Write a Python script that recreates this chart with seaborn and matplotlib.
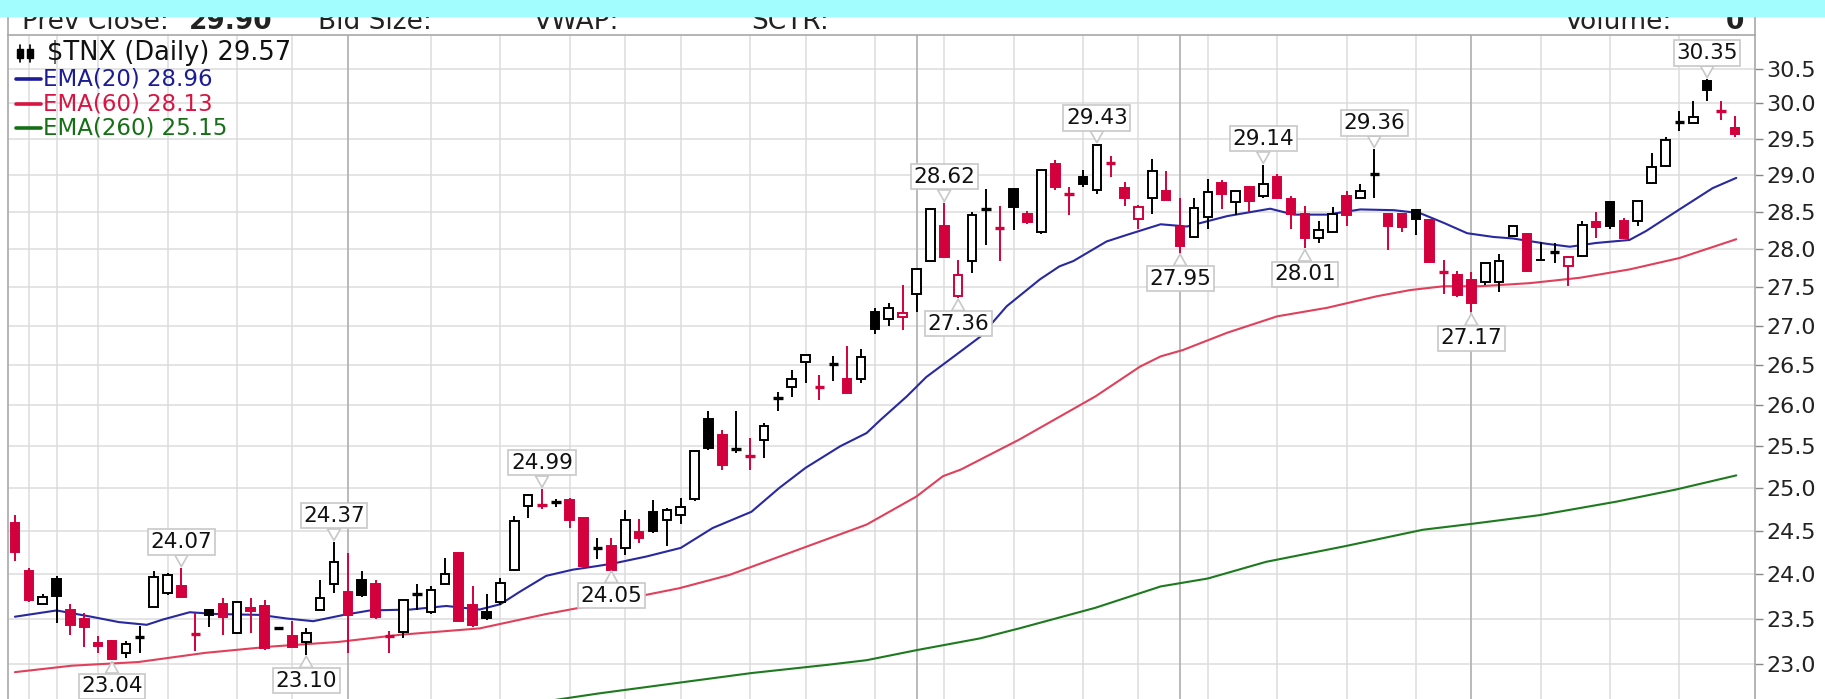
import numpy as np
import pandas as pd
import matplotlib
matplotlib.use('Agg')
import matplotlib.pyplot as plt
import seaborn as sns
from matplotlib.patches import Rectangle
from matplotlib.lines import Line2D
from matplotlib.ticker import FixedLocator, FixedFormatter, NullLocator

#### candle data ($TNX daily) ####
opens = [24.59, 24.03, 23.66, 23.95, 23.60, 23.50, 23.23, 23.25, 23.12, 23.30,
         23.63, 23.79, 23.86, 23.33, 23.60, 23.66, 23.34, 23.62, 23.64, 23.39,
         23.31, 23.24, 23.59, 23.89, 23.80, 23.93, 23.89, 23.31, 23.35, 23.78,
         23.57, 23.89, 24.24, 23.65, 23.57, 23.69, 24.05, 24.79, 24.80, 24.83,
         24.86, 24.65, 24.30, 24.32, 24.30, 24.48, 24.72, 24.62, 24.68, 24.87,
         25.83, 25.64, 25.47, 25.38, 25.58, 26.09, 26.23, 26.54, 26.23, 26.51,
         26.33, 26.33, 27.17, 27.08, 27.11, 27.41, 27.84, 28.31, 27.38, 27.84,
         28.53, 28.28, 28.81, 28.47, 28.22, 29.15, 28.74, 28.97, 28.80, 29.17,
         28.82, 28.40, 28.69, 28.78, 28.30, 28.16, 28.43, 28.89, 28.63, 28.84,
         28.71, 28.97, 28.67, 28.47, 28.14, 28.23, 28.71, 28.69, 29.01, 28.47,
         28.47, 28.52, 28.39, 27.69, 27.66, 27.59, 27.56, 27.57, 28.17, 28.20,
         27.86, 27.96, 27.77, 27.91, 28.36, 28.63, 28.38, 28.38, 28.89, 29.13,
         29.74, 29.72, 30.32, 29.90, 29.65]
highs = [24.68, 24.07, 23.77, 23.98, 23.66, 23.56, 23.31, 23.26, 23.25, 23.42,
         24.04, 24.01, 24.07, 23.56, 23.61, 23.73, 23.70, 23.73, 23.71, 23.41,
         23.47, 23.39, 23.93, 24.37, 24.24, 24.03, 23.93, 23.36, 23.71, 23.89,
         23.86, 24.18, 24.25, 23.86, 23.78, 23.96, 24.67, 24.93, 24.99, 24.87,
         24.88, 24.65, 24.41, 24.41, 24.74, 24.64, 24.86, 24.76, 24.88, 25.45,
         25.93, 25.70, 25.93, 25.60, 25.78, 26.17, 26.44, 26.64, 26.38, 26.62,
         26.74, 26.70, 27.23, 27.29, 27.52, 27.75, 28.55, 28.62, 27.86, 28.49,
         28.81, 28.58, 28.81, 28.51, 29.08, 29.20, 28.84, 29.07, 29.43, 29.26,
         28.91, 28.59, 29.22, 29.06, 28.68, 28.69, 28.94, 28.93, 28.79, 28.85,
         29.14, 29.01, 28.71, 28.58, 28.37, 28.56, 28.78, 28.87, 29.36, 28.47,
         28.48, 28.53, 28.40, 27.86, 27.71, 27.69, 27.82, 27.93, 28.31, 28.21,
         28.09, 28.08, 27.91, 28.37, 28.49, 28.64, 28.41, 28.65, 29.30, 29.53,
         29.90, 30.03, 30.35, 30.03, 29.82]
lows = [24.15, 23.69, 23.66, 23.45, 23.32, 23.19, 23.12, 23.04, 23.06, 23.12,
        23.63, 23.76, 23.73, 23.14, 23.40, 23.32, 23.33, 23.34, 23.15, 23.37,
        23.19, 23.10, 23.59, 23.79, 23.12, 23.74, 23.50, 23.12, 23.28, 23.59,
        23.55, 23.89, 23.46, 23.41, 23.48, 23.65, 24.03, 24.65, 24.75, 24.78,
        24.53, 24.07, 24.17, 24.05, 24.22, 24.36, 24.47, 24.32, 24.58, 24.85,
        25.45, 25.22, 25.42, 25.22, 25.36, 25.93, 26.10, 26.28, 26.06, 26.30,
        26.15, 26.28, 26.90, 27.00, 26.94, 27.18, 27.84, 27.90, 27.36, 27.68,
        28.05, 27.84, 28.25, 28.34, 28.20, 28.80, 28.46, 28.84, 28.74, 28.97,
        28.58, 28.27, 28.47, 28.66, 27.95, 28.16, 28.27, 28.54, 28.45, 28.49,
        28.68, 28.68, 28.27, 28.01, 28.08, 28.23, 28.31, 28.69, 28.68, 27.99,
        28.22, 28.18, 27.82, 27.41, 27.37, 27.17, 27.53, 27.44, 28.17, 27.70,
        27.84, 27.81, 27.51, 27.90, 28.15, 28.27, 28.15, 28.31, 28.88, 29.11,
        29.61, 29.72, 30.03, 29.77, 29.53]
closes = [24.25, 23.71, 23.74, 23.75, 23.43, 23.40, 23.20, 23.05, 23.22, 23.30,
          23.97, 23.99, 23.74, 23.33, 23.54, 23.52, 23.69, 23.58, 23.17, 23.39,
          23.19, 23.34, 23.73, 24.14, 23.54, 23.76, 23.52, 23.31, 23.71, 23.78,
          23.82, 24.00, 23.47, 23.43, 23.51, 23.90, 24.61, 24.92, 24.80, 24.83,
          24.62, 24.09, 24.30, 24.05, 24.62, 24.41, 24.49, 24.74, 24.77, 25.44,
          25.48, 25.27, 25.47, 25.38, 25.75, 26.09, 26.33, 26.63, 26.23, 26.51,
          26.15, 26.60, 26.96, 27.23, 27.16, 27.73, 28.53, 27.90, 27.66, 28.45,
          28.53, 28.28, 28.56, 28.36, 29.07, 28.84, 28.74, 28.88, 29.42, 29.17,
          28.69, 28.56, 29.05, 28.66, 28.04, 28.55, 28.77, 28.74, 28.78, 28.64,
          28.88, 28.68, 28.47, 28.15, 28.25, 28.47, 28.45, 28.78, 29.01, 28.31,
          28.29, 28.40, 27.83, 27.69, 27.39, 27.29, 27.81, 27.84, 28.31, 27.71,
          27.85, 27.96, 27.89, 28.32, 28.30, 28.31, 28.15, 28.64, 29.11, 29.49,
          29.74, 29.81, 30.19, 29.90, 29.57]

#### moving averages at bar positions ####
ema20_pos = [0, 3, 5.5, 7.5, 9.5, 10.7, 12.6, 14.5, 17.7, 19.6, 21.5, 23.7, 25.6,
             28.5, 31.1, 33.5, 35.0, 36.4, 38.3, 40.2, 41.9, 43.1, 45.5, 48.0,
             50.3, 53.1, 55.1, 57.0, 59.5, 61.4, 62.4, 64.3, 65.7, 67.7, 69.6,
             71.5, 73.9, 75.3, 76.3, 78.7, 80.2, 82.6, 84.5, 87.4, 90.5, 92.2,
             94.6, 97.0, 99.4, 101.3, 103.0, 104.7, 106.6, 108.0, 110.4, 112.1,
             114.0, 116.4, 117.6, 120.0, 122.4, 124.1]
ema20 = [23.52, 23.59, 23.52, 23.46, 23.43, 23.49, 23.57, 23.55, 23.54, 23.50,
         23.47, 23.54, 23.59, 23.60, 23.64, 23.60, 23.66, 23.80, 23.98, 24.05,
         24.09, 24.12, 24.20, 24.30, 24.53, 24.72, 25.00, 25.24, 25.50, 25.66,
         25.82, 26.11, 26.35, 26.61, 26.86, 27.25, 27.60, 27.77, 27.84, 28.10,
         28.19, 28.33, 28.30, 28.44, 28.54, 28.46, 28.46, 28.53, 28.52, 28.48,
         28.35, 28.21, 28.16, 28.14, 28.07, 28.03, 28.08, 28.12, 28.24, 28.53,
         28.82, 28.96]

ema60_pos = [0, 4.1, 8.9, 13.7, 18.5, 23.3, 27.8, 33.5, 38.3, 43.1, 47.9, 51.5,
             55.8, 61.4, 65.0, 66.9, 68.2, 72.4, 77.9, 81.1, 82.6, 84.2, 87.4,
             91.0, 94.6, 98.2, 100.6, 103.0, 105.6, 109.2, 112.8, 116.4, 120.0,
             124.1]
ema60 = [22.91, 22.98, 23.02, 23.12, 23.19, 23.24, 23.32, 23.39, 23.55, 23.69,
         23.84, 23.99, 24.24, 24.57, 24.90, 25.14, 25.22, 25.58, 26.11, 26.48,
         26.61, 26.69, 26.91, 27.12, 27.23, 27.38, 27.46, 27.51, 27.51, 27.55,
         27.62, 27.73, 27.88, 28.13]

ema260_pos = [38.5, 42.1, 47.6, 53.1, 58.6, 61.4, 65.0, 69.6, 72.4, 77.9, 82.6,
              86.0, 90.2, 95.9, 101.5, 105.1, 109.9, 115.5, 119.7, 124.1]
ema260 = [22.60, 22.68, 22.79, 22.90, 22.99, 23.04, 23.15, 23.28, 23.39, 23.62,
          23.86, 23.95, 24.14, 24.32, 24.51, 24.58, 24.68, 24.84, 24.98, 25.15]

# axis ticks and grid
y_ticks = [23.0, 23.5, 24.0, 24.5, 25.0, 25.5, 26.0, 26.5, 27.0, 27.5, 28.0,
           28.5, 29.0, 29.5, 30.0, 30.5]
week_lines = [1, 3, 6, 11, 16, 20, 30, 35, 40, 44, 48, 53, 57, 62, 67, 72, 77,
              81, 86, 91, 96, 101, 110, 115, 120]
month_lines = [24, 65, 84, 105]

# bars that carry a high / low price tag
high_tags = [12, 23, 38, 67, 78, 90, 98, 122]
low_tags = [7, 21, 43, 68, 84, 93, 105]

header_items = [("Prev Close:", 22, False), ("29.90", 189, True),
                ("Bid Size:", 318, False), ("VWAP:", 534, False),
                ("SCTR:", 751, False), ("Volume:", 1565, False), ("0", 1726, True)]

df = pd.DataFrame({'open': opens, 'high': highs, 'low': lows, 'close': closes})
df['x'] = np.arange(len(df))
df['prev'] = df['close'].shift(1).fillna(df['open'])

RED = '#d2003c'
BLACK = '#000000'
W, H = 1825, 699

sns.set_style('white')
plt.rcParams['font.family'] = ['DejaVu Sans']

fig = plt.figure(figsize=(W / 100, H / 100), dpi=100)
fig.patch.set_facecolor('white')
top_px = 35
ax = fig.add_axes([8 / W, 0, (1755 - 8) / W, (H - top_px) / H])
ax.set_yscale('log')

# grid
for v in y_ticks:
    ax.axhline(v, color='#dcdcdc', lw=1.1, zorder=0)
for v in week_lines:
    ax.axvline(v, color='#dcdcdc', lw=1.1, zorder=0)
for v in month_lines:
    ax.axvline(v, color='#b4b4b4', lw=1.3, zorder=0)

# moving averages
sns.lineplot(x=ema260_pos, y=ema260, ax=ax, color='#1e7a1e', lw=1.5, zorder=2)
sns.lineplot(x=ema60_pos, y=ema60, ax=ax, color='#e0405a', lw=1.5, zorder=2)
sns.lineplot(x=ema20_pos, y=ema20, ax=ax, color='#2828a0', lw=1.5, zorder=2)

# candles
col = np.where(df['close'] < df['prev'], RED, BLACK)
ax.vlines(df['x'], df['low'], df['high'], colors=col, lw=1.4, zorder=3)
lo = np.minimum(df['open'], df['close'])
hi = np.maximum(df['open'], df['close'])
doji = (hi - lo) < 0.005
hollow = (df['close'] > df['open']) & ~doji
filled = (df['close'] < df['open']) & ~doji
ax.bar(df['x'][hollow], (hi - lo)[hollow], bottom=lo[hollow], width=0.62,
       facecolor='white', edgecolor=col[hollow], lw=1.4, zorder=4)
ax.bar(df['x'][filled], (hi - lo)[filled], bottom=lo[filled], width=0.62,
       facecolor=col[filled], edgecolor=col[filled], lw=1.4, zorder=4)
ax.hlines(df['open'][doji], df['x'][doji] - 0.34, df['x'][doji] + 0.34,
          colors=col[doji], lw=2.4, zorder=4)

# price tags
tag_box = dict(boxstyle='square,pad=0.12', fc='white', ec='#c8c8c8', lw=1.2)
tag_arrow = dict(arrowstyle='wedge,tail_width=0.6,shrink_factor=0.5', fc='white',
                 ec='#c8c8c8', lw=1.2, shrinkA=0, shrinkB=1)
for i in high_tags:
    ax.annotate(f'{highs[i]:.2f}', xy=(i, highs[i]), xytext=(0, 16),
                textcoords='offset pixels', ha='center', va='bottom', fontsize=15.5,
                color='#111111', bbox=tag_box, arrowprops=tag_arrow, zorder=6)
for i in low_tags:
    ax.annotate(f'{lows[i]:.2f}', xy=(i, lows[i]), xytext=(0, -16),
                textcoords='offset pixels', ha='center', va='top', fontsize=15.5,
                color='#111111', bbox=tag_box, arrowprops=tag_arrow, zorder=6)

ax.set_xlim(-0.5, 125.45)
ax.set_ylim(22.62, 30.99)
ax.set_xlabel('')
ax.set_ylabel('')
ax.set_xticks([])
ax.yaxis.tick_right()
ax.yaxis.set_major_locator(FixedLocator(y_ticks))
ax.yaxis.set_major_formatter(FixedFormatter([f'{v:.1f}' for v in y_ticks]))
ax.yaxis.set_minor_locator(NullLocator())
ax.tick_params(axis='y', which='major', direction='out', length=6, width=1,
               color='#888888', labelsize=16, labelcolor='#222222', pad=2)
for s in ['left', 'right', 'top']:
    ax.spines[s].set_color('#a8a8a8')
    ax.spines[s].set_linewidth(1.2)
ax.spines['bottom'].set_visible(False)
if ax.get_legend() is not None:
    ax.get_legend().remove()

# legend block top left
def fy(py):
    return 1 - py / H

fig.text(47 / W, fy(53), f'$TNX (Daily) {closes[-1]:.2f}', fontsize=18.5,
         color='#111111', va='center', ha='left')
legend_rows = [(f'EMA(20) {ema20[-1]:.2f}', '#1c1c96', 79),
               (f'EMA(60) {ema60[-1]:.2f}', '#d81442', 104),
               (f'EMA(260) {ema260[-1]:.2f}', '#157015', 128)]
for txt, c, py in legend_rows:
    fig.add_artist(Line2D([16 / W, 41 / W], [fy(py), fy(py)], color=c, lw=2.6))
    fig.text(43 / W, fy(py), txt, fontsize=16.5, color=c, va='center', ha='left')

# little candle icon
for cx in (20, 30):
    fig.add_artist(Line2D([cx / W, cx / W], [fy(45), fy(62)], color='black', lw=1.2))
    fig.add_artist(Rectangle(((cx - 3) / W, fy(58)), 6 / W, 9 / H,
                             transform=fig.transFigure, color='black'))

# header strip
for txt, px, bold in header_items:
    fig.text(px / W, fy(29), txt, fontsize=19, color='#222222', va='baseline',
             ha='left', fontweight='bold' if bold else 'normal')
for px in (8, 1755):
    fig.add_artist(Line2D([px / W, px / W], [fy(16), fy(top_px)], color='#a8a8a8', lw=1.2))
fig.add_artist(Rectangle((0, fy(16)), 1, 16 / H, transform=fig.transFigure,
                         color='#a1fdff', zorder=20))

fig.savefig('out.png', dpi=100)
